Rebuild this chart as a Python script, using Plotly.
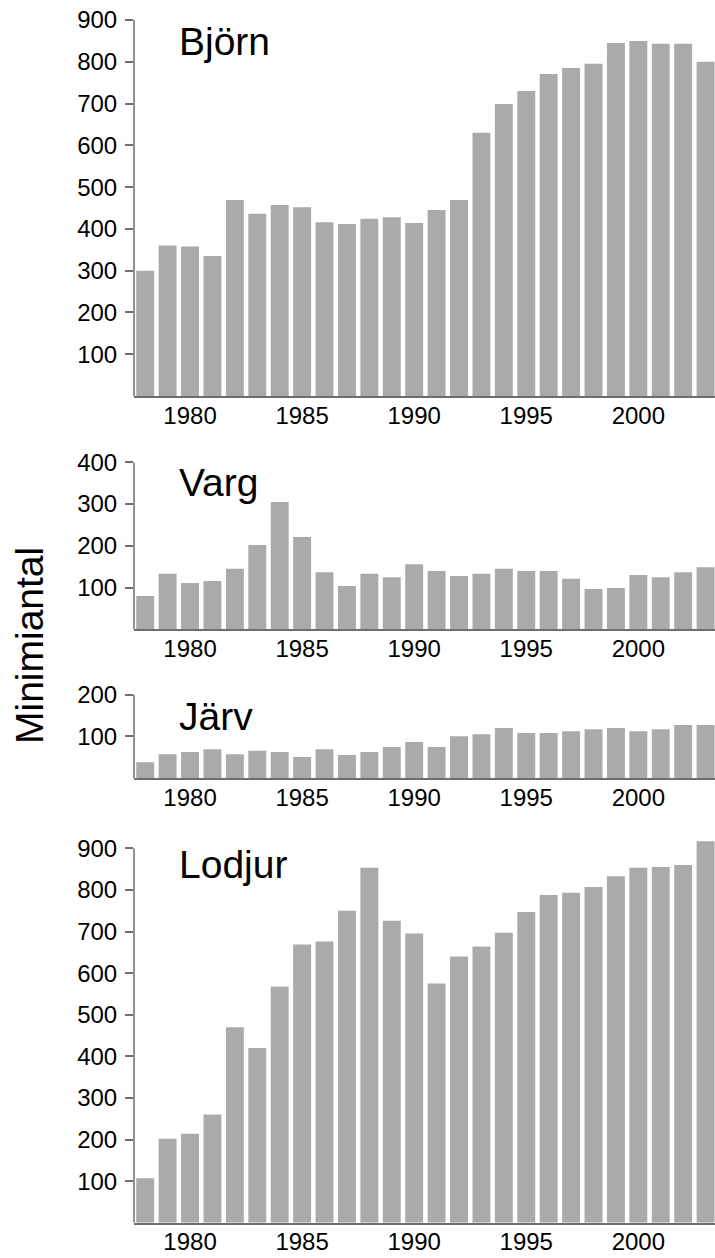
import plotly.graph_objects as go

years = list(range(1978, 2004))

bjorn = [300, 360, 358, 335, 469, 436, 457, 452, 416, 412, 424, 428, 414,
         445, 469, 630, 699, 730, 771, 785, 795, 845, 850, 843, 843, 800]
varg = [80, 133, 111, 116, 145, 202, 305, 221, 137, 104, 133, 125, 156,
        140, 128, 133, 145, 140, 140, 121, 97, 99, 130, 125, 137, 149]
jarv = [38, 57, 62, 69, 57, 65, 62, 50, 69, 55, 62, 74, 86,
        74, 100, 105, 120, 108, 108, 112, 117, 120, 112, 117, 127, 127]
lodjur = [107, 202, 214, 260, 470, 420, 568, 669, 676, 750, 853, 726, 695,
          575, 640, 664, 697, 747, 788, 793, 807, 833, 853, 855, 860, 917]

titles = ["Björn", "Varg", "Järv", "Lodjur"]
series = [bjorn, varg, jarv, lodjur]
y_top = [900, 400, 200, 900]          # top of the drawn value axis
y_ticks = [list(range(100, 1000, 100)), [100, 200, 300, 400], [100, 200],
           list(range(100, 1000, 100))]
x_ticks = [1980, 1985, 1990, 1995, 2000]
y_label = "Minimiantal"

W, H = 715, 1258
FONT = "Liberation Sans, Arial, Helvetica, sans-serif"
BAR = "#aaaaaa"
AXIS = "#6e6e6e"

# pixel positions (top of value axis, zero line) of each panel
panel_px = [(20, 396), (462.3, 629.4), (694.5, 778), (848.3, 1222.7)]
title_px = [41, 482, 716, 865]
x_left = 134 / W

fig = go.Figure()
layout = dict(
    width=W, height=H,
    margin=dict(l=0, r=0, t=0, b=0, pad=0, autoexpand=False),
    paper_bgcolor="white", plot_bgcolor="white",
    showlegend=False,
    font=dict(family=FONT, color="black"),
)
annotations = []
shapes = []
for i, (name, vals) in enumerate(zip(titles, series)):
    k = "" if i == 0 else str(i + 1)
    top, bot = panel_px[i]
    px_per_unit = (bot - top) / y_top[i]
    vmax = max(y_top[i], max(vals) + 3)
    top_ext = bot - vmax * px_per_unit
    fig.add_trace(go.Bar(x=years, y=vals, marker_color=BAR, marker_line_width=0,
                         width=0.8, xaxis="x" + k, yaxis="y" + k,
                         hoverinfo="x+y"))
    layout["xaxis" + k] = dict(
        domain=[x_left, 1], range=[1977.5, 2003.42], anchor="y" + k,
        tickvals=x_ticks, ticks="", showgrid=False, zeroline=False,
        showline=True, linecolor=AXIS, linewidth=1.5, automargin=False,
        tickfont=dict(size=24, family=FONT, color="black"),
        ticklabelstandoff=-3,
    )
    layout["yaxis" + k] = dict(
        domain=[(H - bot) / H, (H - top_ext) / H], range=[0, vmax],
        anchor="x" + k, tickvals=y_ticks[i], ticks="outside", ticklen=8,
        tickcolor=AXIS, tickwidth=1.5, showgrid=False, zeroline=False,
        showline=False, automargin=False,
        tickfont=dict(size=24, family=FONT, color="black"),
        ticklabelstandoff=3,
    )
    # value axis line drawn from 0 up to the top tick only
    shapes.append(dict(
        type="line", xref="x" + k + " domain", yref="y" + k,
        x0=0, x1=0, y0=0, y1=y_top[i],
        line=dict(color=AXIS, width=1.5), layer="above",
    ))
    annotations.append(dict(
        text=name, xref="paper", yref="paper", x=177 / W, xanchor="left",
        y=(H - title_px[i]) / H, yanchor="middle", showarrow=False,
        font=dict(size=39, family=FONT, color="black"),
    ))

annotations.append(dict(
    text=y_label, xref="paper", yref="paper", x=29 / W, xanchor="center",
    y=(H - 646) / H, yanchor="middle", textangle=-90, showarrow=False,
    font=dict(size=39, family=FONT, color="black"),
))
layout["annotations"] = annotations
layout["shapes"] = shapes
fig.update_layout(**layout)

fig.write_html(
    "out.html",
    config={"displayModeBar": False},
    post_script=(
        "document.documentElement.style.margin='0';"
        "document.body.style.margin='0';"
        "document.documentElement.style.overflow='hidden';"
        "document.body.style.overflow='hidden';"
    ),
)
